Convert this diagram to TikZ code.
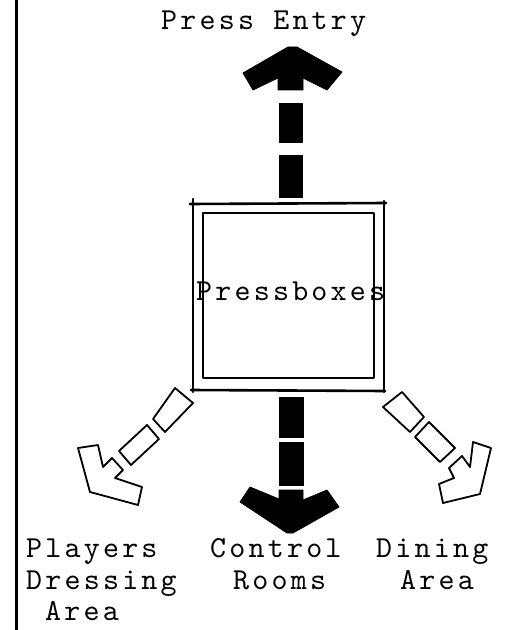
\documentclass[tikz,border=0pt]{standalone}
\usepackage{fontspec}
\newfontfamily\tw{lmmono10-regular.otf}[LetterSpace=10.5]
\begin{document}
\begin{tikzpicture}[x=1bp,y=-1bp,
  lbl/.style={font=\tw\fontsize{30.5bp}{31bp}\selectfont, inner sep=0pt, anchor=base west},
  solidseg/.style={fill=black, draw=black, line width=0.8bp, line join=round},
  hollow/.style={draw=black, fill=white, line width=1.8bp, line join=round},
  outerwall/.style={line width=2.6bp, line cap=round},
  innerwall/.style={line width=1.8bp, line join=round}]
\useasboundingbox (0,0) rectangle (510,630);
\fill[white] (0,0) rectangle (510,630);
% left border
\draw[line width=3bp] (16,0) -- (16,630);

% pressbox square
\draw[outerwall] (190,204) -- (386,203);
\draw[outerwall] (193,199) -- (193,392);
\draw[outerwall] (191,390) -- (385,391);
\draw[outerwall] (384,201) -- (384,392);
\draw[innerwall] (203,213) rectangle (374,378);
\node[lbl] (pb) at (196,300) {Pressboxes};

% top arrow: Press Entry
\draw[solidseg] (288,47) -- (297,47) -- (342,72) -- (327,90) -- (303,78) -- (303,90)
  -- (278,90) -- (278,78) -- (253,90) -- (243,73) -- cycle;
\draw[solidseg] (279,103) rectangle (302,142);
\draw[solidseg] (279,155) rectangle (302,197);

% bottom arrow: Control Rooms
\draw[solidseg] (279,397) rectangle (303,437);
\draw[solidseg] (279,442) rectangle (303,485);
\draw[solidseg] (279,490) -- (303,490) -- (303,500) -- (327,490) -- (339,507)
  -- (293,533) -- (287,533) -- (240,502) -- (250,487) -- (279,499) -- cycle;

% left diagonal arrow: Players Dressing Area
\draw[hollow] (175,388) -- (193,403) -- (165,432) -- (153,419) -- cycle;
\draw[hollow] (147,425) -- (159,439) -- (131,465) -- (119,451) -- cycle;
\draw[hollow] (78,448) -- (98,445) -- (103,467) -- (112,458) -- (123,470) -- (115,478)
  -- (142,487) -- (138,505) -- (90,492) -- cycle;

% right diagonal arrow: Dining Area
\draw[hollow] (402,392) -- (424,417) -- (410,432) -- (383,407) -- cycle;
\draw[hollow] (429,422) -- (455,448) -- (440,462) -- (415,437) -- cycle;
\draw[hollow] (462,456) -- (470,467) -- (473,442) -- (491,448) -- (480,494) -- (443,503)
  -- (439,484) -- (454,478) -- (449,468) -- cycle;

% labels
\node[lbl] (pe) at (161,30) {Press Entry};
\node[lbl] (pl1) at (26,557) {Players};
\node[lbl] (pl2) at (26,589) {Dressing};
\node[lbl] (pl3) at (45,620) {Area};
\node[lbl] (cr1) at (210,557) {Control};
\node[lbl] (cr2) at (233,589) {Rooms};
\node[lbl] (da1) at (376,557) {Dining};
\node[lbl] (da2) at (400,589) {Area};
\end{tikzpicture}
\end{document}
